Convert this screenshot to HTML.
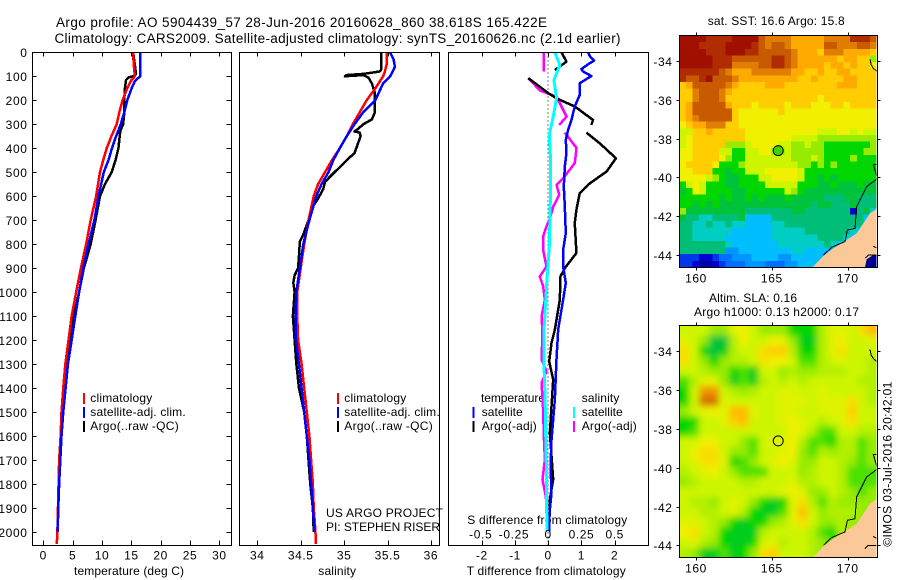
<!DOCTYPE html>
<html>
<head>
<meta charset="utf-8">
<title>Argo profile</title>
<style>
html,body{margin:0;padding:0;background:#fff;}
#chart{display:block;width:900px;height:580px;}
text{font-family:"Liberation Sans",sans-serif;font-size:12px;fill:#000;}
.t14{font-size:13.5px;}
.tick-text{letter-spacing:0.6px;}
</style>
</head>
<body>
<svg id="chart" xmlns="http://www.w3.org/2000/svg" width="900" height="580" viewBox="0 0 900 580">
<defs>
<clipPath id="clipSst"><rect x="679.5" y="35.5" width="197" height="232"/></clipPath>
<clipPath id="clipSla"><rect x="679.5" y="325.5" width="197" height="232"/></clipPath>
<filter id="soft" filterUnits="userSpaceOnUse" x="650" y="300" width="250" height="280"><feGaussianBlur stdDeviation="3.5"/></filter>
</defs>
<rect x="0" y="0" width="900" height="580" fill="#fff"/>

<text class="t14" x="56" y="27" textLength="491">Argo profile: AO 5904439_57 28-Jun-2016 20160628_860 38.618S 165.422E</text>
<text class="t14" x="54.5" y="43" textLength="566">Climatology: CARS2009. Satellite-adjusted climatology: synTS_20160626.nc (2.1d earlier)</text>

<g id="layer-sst"></g>
<g id="layer-sla"></g>

<text x="74" y="575" textLength="110">temperature (deg C)</text>
<text x="318.3" y="575" textLength="37.7">salinity</text>
<text x="466.7" y="575" textLength="159">T difference from climatology</text>
<text x="467.3" y="524" textLength="160">S difference from climatology</text>

<g>
<rect x="83" y="393" width="2" height="11" fill="#f00"/>
<rect x="83" y="407" width="2" height="11" fill="#00f"/>
<rect x="83" y="421" width="2" height="11" fill="#000"/>
<text x="90.3" y="402" textLength="62">climatology</text>
<text x="90.3" y="416" textLength="95.4">satellite-adj. clim.</text>
<text x="90.3" y="430" textLength="88.4">Argo(..raw -QC)</text>
</g>
<g>
<rect x="337" y="393" width="2" height="11" fill="#f00"/>
<rect x="337" y="407" width="2" height="11" fill="#00f"/>
<rect x="337" y="421" width="2" height="11" fill="#000"/>
<text x="344.3" y="402" textLength="62">climatology</text>
<text x="344.3" y="416" textLength="95.4">satellite-adj. clim.</text>
<text x="344.3" y="430" textLength="88.4">Argo(..raw -QC)</text>
</g>
<g>
<text x="481" y="402" textLength="64">temperature</text>
<rect x="472.5" y="407" width="2" height="11" fill="#00f"/>
<rect x="472.5" y="421" width="2" height="11" fill="#000"/>
<text x="481.7" y="416" textLength="41">satellite</text>
<text x="481.7" y="430" textLength="55">Argo(-adj)</text>
<text x="581.7" y="402" textLength="37.7">salinity</text>
<rect x="573" y="407" width="2" height="11" fill="#0ff"/>
<rect x="573" y="421" width="2" height="11" fill="#f0f"/>
<text x="581.7" y="416" textLength="41">satellite</text>
<text x="581.7" y="430" textLength="55">Argo(-adj)</text>
</g>

<text x="326" y="517" textLength="117">US ARGO PROJECT</text>
<text x="326" y="531" textLength="114">PI: STEPHEN RISER</text>

<text x="707.7" y="25" textLength="137">sat. SST: 16.6 Argo: 15.8</text>
<text x="709" y="302" textLength="88">Altim. SLA: 0.16</text>
<text x="694" y="316" textLength="165">Argo h1000: 0.13 h2000: 0.17</text>
<text transform="translate(891.7,546.7) rotate(-90)" x="0" y="0" textLength="165">©IMOS 03-Jul-2016 20:42:01</text>

<g id="layer-profiles"></g>
<g id="layer-axes"></g>
</svg>

<script>
/* ---------- axis ticks ---------- */
const depthTicks = [0,100,200,300,400,500,600,700,800,900,1000,1100,1200,1300,1400,1500,1600,1700,1800,1900,2000];
const tempTicks = [0,5,10,15,20,25,30];
const salTicks = [34,34.5,35,35.5,36];
const salTickLabels = ['34','34.5','35','35.5','36'];
const tDiffTicks = [-2,-1,0,1,2];
const sDiffTicks = [-0.5,-0.25,0,0.25,0.5];
const sDiffTickLabels = ['-0.5','-0.25','0','0.25','0.5'];
const lonTicks = [160,165,170];
const latTicks = [-34,-36,-38,-40,-42,-44];

/* ---------- temperature profiles ---------- */
const tempClimDepth = [0,50,100,120,150,200,250,300,350,400,450,500,600,700,800,900,1000,1100,1200,1300,1400,1500,1600,1700,1800,1900,2000,2050];
const tempClim = [15.3,15.4,15.6,14.9,14.3,13.5,12.95,12.5,11.6,10.8,10.2,9.66,9.0,8.07,7.3,6.4,5.6,4.83,4.3,3.75,3.4,3.1,2.95,2.7,2.6,2.5,2.4,2.3];
const tempSatDepth = [0,100,120,150,200,250,300,350,400,450,500,600,700,800,900,1000,1100,1200,1300,1400,1500,1600,1700,1800,1900,2000];
const tempSat = [16.5,16.5,15.6,15.05,14.3,13.8,13.2,12.4,11.7,11.1,10.3,9.4,8.7,7.7,6.8,6.1,5.45,4.83,4.2,3.8,3.4,3.1,2.9,2.7,2.55,2.45];
const tempArgoDepth = [0,90,100,105,115,150,200,250,300,330,400,450,500,550,600,700,800,850,900,1000,1100,1200,1300,1400,1500,1600,1700,1800,1900,2000];
const tempArgo = [15.3,15.8,15.3,14.5,14.1,13.9,13.8,13.8,13.6,13.1,12.8,12.3,11.65,10.5,9.66,8.9,8.07,7.5,6.9,6.1,5.2,4.66,4.0,3.6,3.3,3.0,2.85,2.65,2.5,2.4];

/* ---------- salinity profiles ---------- */
const salClimDepth = [0,50,80,100,150,200,250,300,350,400,450,500,550,600,700,800,900,1000,1100,1200,1300,1400,1500,1600,1700,1800,1900,2000,2050];
const salClim = [35.49,35.49,35.47,35.45,35.36,35.26,35.18,35.1,35.03,34.95,34.86,34.78,34.7,34.65,34.59,34.54,34.5,34.46,34.46,34.47,34.51,34.54,34.57,34.6,34.62,34.64,34.65,34.67,34.675];
const salSatDepth = [0,30,60,80,100,130,160,200,250,300,350,400,450,500,550,600,700,800,900,1000,1100,1200,1300,1400,1500,1600,1700,1800,1900,2000];
const salSat = [35.53,35.57,35.585,35.56,35.53,35.45,35.41,35.36,35.22,35.12,35.03,34.95,34.875,34.82,34.74,34.68,34.6,34.53,34.49,34.45,34.44,34.445,34.48,34.51,34.54,34.57,34.6,34.62,34.64,34.66];
const salArgoDepth = [0,70,80,85,90,95,100,95,105,130,170,250,280,300,320,330,335,350,380,420,450,500,540,570,610,640,700,760,790,850,900,930,960,1000,1100,1200,1300,1400,1500,1600,1700,1800,1900,2000];
const salArgo = [35.43,35.43,35.41,35.32,35.22,35.03,35.01,35.22,35.28,35.32,35.355,35.355,35.32,35.22,35.16,35.12,35.18,35.19,35.16,35.12,35.03,34.89,34.78,34.76,34.70,34.645,34.59,34.53,34.49,34.48,34.47,34.43,34.415,34.43,34.41,34.43,34.45,34.48,34.54,34.57,34.59,34.61,34.64,34.65];

/* ---------- difference profiles (null = gap) ---------- */
const dTempSatDepth = [0,15,35,50,70,80,99,129,178,226,282,324,365,420,476,560,643,754,824,893,962,1032,1157,1280,1449,1532,1615,1726,1837,1935,1998];
const dTempSat = [1.2,1.25,1.38,1.2,1.0,1.05,1.3,0.95,0.95,0.8,0.7,0.6,0.53,0.55,0.5,0.47,0.5,0.53,0.45,0.45,0.53,0.45,0.3,0.25,0.2,0.15,0.1,0.07,0.1,0.03,0.03];
const dTempArgoDepth = [0,39,74,90,108,170,192,226,282,303,320,335,379,442,497,546,587,657,712,837,900,935,1032,1157,1212,1289,1365,1476,1587,1684,1782,1865,1998];
const dTempArgo = [0.4,0.55,0.2,null,-0.6,0,0.25,0.8,1.35,1.3,null,1.15,1.55,2.04,1.76,1.26,0.95,0.85,0.8,0.85,0.5,0.37,0.35,0.2,0.1,0.03,0.15,0.1,0.05,0.1,0.15,0.05,0.03];
const dSalSatDepth = [0,53,115,192,268,344,449,560,699,810,935,1032,1171,1281,1449,1615,1754,1865,1998];
const dSalSat = [0.05,0.088,0.043,0.063,0.038,0.008,0.018,0.018,0.013,0.008,-0.008,-0.018,-0.033,-0.033,-0.023,-0.018,-0.013,-0.013,-0.008];
const dSalArgoDepth = [0,80,90,108,160,185,268,303,320,335,399,462,525,553,595,643,692,726,768,824,893,935,976,1032,1101,1171,1281,1330,1379,1490,1601,1698,1782,1851,1935,1998];
const dSalArgo = [-0.033,-0.033,null,-0.15,-0.06,0.063,0.138,0.083,null,0.125,0.213,0.2,0.113,0.063,0.083,0.038,0.013,-0.013,-0.038,-0.038,-0.013,-0.063,-0.038,-0.025,-0.05,-0.043,-0.05,-0.013,-0.05,-0.038,-0.033,-0.025,-0.043,-0.018,-0.008,-0.008];

/* ---------- SST map levels (rows north to south) ---------- */
const sstGrid = [
[16,16,16,16,15,15,15,15,16,16,16,16,14,13,13,13,13,12,12,12,12,12,13,13,13,13,15,15,15,14],
[16,16,16,15,15,15,15,16,16,16,16,15,14,13,14,14,13,12,12,12,12,12,14,14,13,13,13,14,14,13],
[16,16,16,16,15,15,15,16,16,16,15,15,14,14,14,14,14,13,12,12,12,11,13,13,13,12,12,12,12,11],
[16,16,16,16,16,15,15,15,14,14,14,14,14,14,15,15,14,13,12,12,12,12,12,12,11,12,12,11,11,8],
[16,16,16,16,16,15,15,15,13,13,13,13,14,14,15,15,14,13,12,12,12,12,11,12,12,11,12,11,11,10],
[15,15,15,15,15,15,14,13,12,12,12,13,13,13,13,13,13,12,12,11,11,12,11,11,12,12,11,11,11,11],
[15,14,14,15,16,14,14,14,13,12,12,12,12,12,12,12,12,12,11,11,12,11,11,11,11,12,12,11,11,11],
[11,12,14,14,14,14,14,13,12,11,11,11,11,12,12,12,11,11,11,11,11,11,11,11,12,12,12,11,11,11],
[11,11,13,14,14,14,13,12,11,11,11,11,11,11,11,11,11,11,11,11,11,11,11,11,11,11,11,11,11,11],
[11,11,13,14,14,14,13,11,11,11,11,11,11,11,11,11,11,11,11,11,11,10,11,11,11,11,11,11,11,11],
[11,12,14,14,14,14,14,12,11,11,11,10,11,11,11,11,10,11,11,11,10,10,10,11,11,10,11,11,11,11],
[11,12,14,14,14,14,14,14,11,10,10,10,10,10,10,11,10,10,10,10,10,10,10,10,10,10,10,10,10,10],
[11,12,13,14,14,14,14,14,11,10,10,10,10,10,10,10,10,10,10,10,10,10,10,10,10,10,10,10,10,10],
[10,11,12,12,13,13,13,11,11,10,10,10,10,10,10,10,10,10,10,10,10,10,10,10,10,10,10,10,10,10],
[9,9,11,11,12,11,11,11,11,11,10,10,10,10,10,10,10,10,10,10,10,9,9,9,10,10,9,10,9,9],
[9,10,11,11,11,11,11,11,11,11,10,10,10,10,10,10,10,9,9,9,9,8,8,8,8,8,8,8,8,8],
[9,10,11,11,11,11,11,8,8,8,9,10,10,10,10,9,9,8,8,9,8,8,7,7,7,7,7,7,7,8],
[10,10,11,11,11,11,9,9,7,7,9,9,10,10,8,8,9,8,8,8,8,8,7,7,7,7,7,7,8,8],
[10,10,11,11,11,11,10,8,7,7,9,9,9,9,9,9,9,8,8,8,9,8,7,7,7,7,8,7,7,7],
[10,11,11,11,11,10,7,7,7,8,9,9,9,9,9,9,9,9,8,8,7,8,7,8,7,7,7,7,7,7],
[10,10,11,11,11,7,7,6,7,7,9,9,9,10,10,10,10,10,9,7,7,7,7,7,7,7,7,7,7,7],
[10,10,10,10,9,8,7,6,6,7,7,7,9,9,10,10,10,10,9,7,7,6,7,6,7,7,7,7,7,7],
[7,9,10,9,7,7,7,6,6,7,7,7,7,9,9,9,9,9,7,7,7,6,6,7,6,6,6,7,6,6],
[6,7,10,9,7,7,7,7,6,6,7,7,7,7,7,7,9,8,7,6,6,6,6,6,6,6,6,6,6,6],
[7,7,7,7,7,7,6,7,6,6,7,6,7,6,6,6,7,6,6,6,6,6,5,5,5,6,6,5,5,5],
[7,7,6,7,6,7,6,6,6,6,6,6,6,6,6,6,6,6,6,6,5,6,6,5,5,5,6,5,5,5],
[8,6,6,6,6,6,6,6,6,6,5,5,5,5,5,5,5,6,6,5,5,5,5,5,5,5,1,5,6,4],
[6,5,5,4,4,5,5,5,5,6,3,3,3,3,5,5,5,5,5,5,5,5,5,5,5,5,5,5,3,3],
[5,5,4,4,5,4,4,5,4,4,3,3,3,3,4,4,5,5,5,5,5,5,5,5,5,5,5,5,3,3],
[5,5,4,4,4,4,4,4,3,3,3,3,3,3,4,4,4,4,4,5,5,5,5,5,5,5,4,3,3,3],
[5,5,4,4,4,4,4,3,3,3,3,3,3,3,4,4,4,4,4,4,4,5,5,5,5,4,3,3,3,3],
[5,5,5,5,5,5,5,4,3,3,3,3,3,3,3,4,4,4,4,4,4,4,5,4,3,3,3,3,3,3],
[5,5,5,5,5,5,5,2.5,2.5,3,3,3,3,3,3,3,3,4,4,3,3,3,3,3,3,3,3,3,3,3],
[1.5,1.5,1.5,1,1,1.5,2,2,2.5,2.5,2.5,3,3,3,3,2.5,2.5,3,3,3,3,3,3,3,3,3,3,3,3,3],
[1.5,1.5,1,0.5,0.5,1,1.5,2,2,2,2.5,2.5,2.5,2,2,2,2.5,2.5,3,3,3,3,3,3,3,3,3,3,3,3]
];

/* ---------- SLA map levels (rows north to south) ---------- */
const slaGrid = [
[9,9,9,8,8,9.5,10,9,8,8,8,7,7,7,8.5,9.5,9.5,9,10.5,11.5],
[9.5,9,8,6,6,8.5,10,9,9,10,9.5,8,6.5,6.5,8.5,9.5,10,9,9,9.5],
[10.5,9,7,6,6.5,8.5,9,9,10.5,11,11,8.5,7,7,8.5,9.5,10.5,9,9,9],
[10.5,9,8,7,8,8.5,8.5,9,10.5,10,10,9,7.5,7.5,8.5,9,9.5,9,9,8.5],
[9,9,8.5,8,8,7,7.5,6.5,9,9,8,8.5,8,8,8.5,8.5,8.5,9,9,8.5],
[7.5,8.5,9.5,9.5,8,6.5,7.5,6.5,8.5,9,8.5,9,8.5,9,9,9,9,9,8.5,8.5],
[7,9,12.5,12.5,9,8.5,8,8.5,9,9,9.5,9.5,9,9,9.5,9,9,9,9,8.5],
[7,9,13.5,13.5,9.5,9,9,9,9,9,9.5,9.5,9.5,9,9.5,9.5,9.5,10.5,9,8.5],
[8,9,9.5,10,9.5,11.5,11.5,9.5,9,9,9.5,9.5,9,9,9.5,9.5,9.5,11,9,9],
[7,7,9,9,9.5,11,11.5,9,9,9,9.5,10,9.5,9,8.5,9,9.5,10.5,9,9],
[7,7.5,9,9,9,9,9,9,9,9,9,10,9.5,8.5,7.5,7.5,9,9,8.5,8.5],
[9,9,10,10,9,9,8,7.5,9,9.5,9.5,10,8.5,7.5,7.5,7,8.5,8.5,7.5,8],
[9,10,10.5,10.5,9,8,8,7.5,9,9,9.5,10,8,7.5,8.5,8,8.5,8.5,7.5,8],
[9,9.5,10.5,10.5,9.5,7,7.5,8,9,9.5,10,9.5,8,8,9,9,8.5,8,7.5,8],
[8.5,9,9.5,10,9,8,7.5,7.5,7.5,9,9,9,8,8.5,9,9,8.5,7.5,7.5,7.5],
[8,8.5,9,9,9,9,8.5,8.5,9,9,9,9.5,8.5,8.5,9,9,8.5,7.5,7.5,7.5],
[9,9,9,9,9,9,9,9,9,9,9.5,10,9.5,8,8,9,8.5,8,7.5,8],
[9,8.5,8.5,8,9,9.5,9,8,7,6.5,7,9.5,10.5,8.5,7.5,8.5,8,8,8,8],
[9,9,8.5,8.5,9,9.5,8.5,7,6.5,6.5,7.5,9.5,11.5,9,8,8.5,8.5,8.5,8,8],
[9.5,9.5,9,8.5,8,7,6.5,7,7,8,8.5,9.5,10.5,9,8,8,8.5,8,8,8],
[10,10.5,9,8.5,7,6.5,6.5,6.5,8.5,9,9,9,9,8.5,7.5,7,8.5,8,8,8],
[9,9.5,8.5,8,7,6.5,6.5,7,9,9.5,8.5,9,9,8.5,8,7.5,7.5,8,8,8],
[8.5,8,6.5,6.5,7.5,6.5,7,8,10.5,11,9,9,9,8.5,8,8,8,8,8,8]
];

/* ---------- geography ---------- */
const floatLon = 165.42;
const floatLat = -38.618;
const landLon = [167.67,168.4,169.05,169.93,170.6,171.03,171.47,171.96,171.96];
const landLat = [-44.64,-44.05,-43.66,-43.23,-42.88,-42.37,-41.85,-41.6,-44.64];
const sstDeepLon = [171.14,171.25,171.69,171.96,171.96];
const sstDeepLat = [-44.64,-44.22,-44,-44,-44.64];
const coastLons = [
 [168.4,168.95,169.82,169.98,170.48,170.59,170.81,171.25,171.69,171.96],
 [171.96,171.8,171.69,171.96],
 [171.47,171.55,171.69,171.96],
 [171.14,171.36,171.69,171.96],
 [171.69,171.96]
];
const coastLats = [
 [-44.0,-43.6,-43.31,-42.71,-42.63,-41.51,-41.16,-40.48,-40.22,-40.05],
 [-40.05,-39.62,-39.33,-39.33],
 [-33.91,-34.2,-34.38,-34.55],
 [-44.17,-44,-44,-44],
 [-43.55,-43.65]
];

/* ---------- scales ---------- */
const NS = 'http://www.w3.org/2000/svg';
const yDepth = d => 52.3 + d * 0.2398;
const xTemp = t => 43.3 + t * 5.87;
const xSal = s => 257.3 + (s - 34) * 86.8;
const xTDiff = t => 548.2 + t * 33.2;
const xSDiff = s => 548.2 + s * 133;
const xLon = lon => 696 + (lon - 160) * 15.17;
const ySstLat = lat => 61 + (-34 - lat) * 19.4;
const ySlaLat = lat => 351.3 + (-34 - lat) * 19.4;

function mk(parent, tag, attrs) {
  const el = document.createElementNS(NS, tag);
  for (const k in attrs) el.setAttribute(k, attrs[k]);
  parent.appendChild(el);
  return el;
}

const palette = [
 [0,0,128],[0,0,210],[0,110,255],[0,190,255],[0,205,195],[0,190,120],[0,195,60],[0,215,0],
 [150,235,0],[205,245,0],[240,240,0],[255,205,0],[255,170,0],[225,125,0],[200,90,0],[175,45,0],[160,15,0]
];
function levelColor(v) {
  const i = Math.max(0, Math.min(palette.length - 2, Math.floor(v)));
  const f = Math.max(0, Math.min(1, v - i));
  const c = palette[i].map((p, k) => Math.round(p + (palette[i + 1][k] - p) * f));
  return 'rgb(' + c.join(',') + ')';
}

function pathFrom(xs, ys, xScale, yScale) {
  let d = '';
  let pen = false;
  for (let i = 0; i < xs.length; i++) {
    if (xs[i] === null) { pen = false; continue; }
    d += (pen ? 'L' : 'M') + xScale(xs[i]).toFixed(2) + ' ' + yScale(ys[i]).toFixed(2);
    pen = true;
  }
  return d;
}

/* ---------- profile lines ---------- */
const layerProfiles = document.getElementById('layer-profiles');
function addProfile(name, values, depths, xScale, color, width) {
  const p = mk(layerProfiles, 'path', {
    d: pathFrom(values, depths, xScale, yDepth),
    fill: 'none', stroke: color, 'stroke-width': width,
    'stroke-linejoin': 'round', 'shape-rendering': 'crispEdges'
  });
  
  
}
const zeroLine = mk(layerProfiles, 'line', {
  x1: xTDiff(0), x2: xTDiff(0), y1: yDepth(0), y2: 545, stroke: '#000',
  'stroke-width': 1, 'stroke-dasharray': '1 3', 'shape-rendering': 'crispEdges'
});



addProfile('temperature-argo-line', tempArgo, tempArgoDepth, xTemp, '#000', 2.5);
addProfile('temperature-climatology-line', tempClim, tempClimDepth, xTemp, '#f00', 2.5);
addProfile('temperature-satellite-line', tempSat, tempSatDepth, xTemp, '#00f', 2.5);
addProfile('salinity-argo-line', salArgo, salArgoDepth, xSal, '#000', 2.5);
addProfile('salinity-climatology-line', salClim, salClimDepth, xSal, '#f00', 2.5);
addProfile('salinity-satellite-line', salSat, salSatDepth, xSal, '#00f', 2.5);
addProfile('salinity-diff-argo-line', dSalArgo, dSalArgoDepth, xSDiff, '#f0f', 2.5);
addProfile('temperature-diff-argo-line', dTempArgo, dTempArgoDepth, xTDiff, '#000', 2.5);
addProfile('temperature-diff-satellite-line', dTempSat, dTempSatDepth, xTDiff, '#00f', 2.5);
addProfile('salinity-diff-satellite-line', dSalSat, dSalSatDepth, xSDiff, '#0ff', 3);

/* ---------- maps ---------- */
const MAP_LEFT = 679.5, MAP_W = 197, MAP_H = 232;
function drawGrid(group, grid, top, name, pad) {
  const rows = grid.length, cols = grid[0].length;
  const cw = MAP_W / cols, ch = MAP_H / rows;
  grid.forEach((row, r) => {
    row.forEach((v, c) => {
      if (c >= cols) return;
      const x0 = MAP_LEFT + c * cw - (pad && c === 0 ? 20 : 0);
      const x1 = MAP_LEFT + (c + 1) * cw + (pad && c === cols - 1 ? 20 : 0);
      const y0 = top + r * ch - (pad && r === 0 ? 20 : 0);
      const y1 = top + (r + 1) * ch + (pad && r === rows - 1 ? 20 : 0);
      const cell = mk(group, 'rect', {
        x: x0.toFixed(2), y: y0.toFixed(2),
        width: (x1 - x0 + 0.4).toFixed(2), height: (y1 - y0 + 0.4).toFixed(2),
        fill: levelColor(v), 'shape-rendering': 'crispEdges'
      });
      
      
    });
  });
}
function polyPoints(lons, lats, yScale) {
  return lons.map((lon, i) => xLon(lon).toFixed(2) + ',' + yScale(lats[i]).toFixed(2)).join(' ');
}
function drawGeo(group, yScale, clip) {
  const wrap = mk(group, 'g', { 'clip-path': 'url(#' + clip + ')' });
  
  
  const land = mk(wrap, 'polygon', { points: polyPoints(landLon, landLat, yScale), fill: '#fdc898' });
  
  
  if (clip === 'clipSst') {
    const deep = mk(wrap, 'polygon', { points: polyPoints(sstDeepLon, sstDeepLat, yScale), fill: '#000090' });
    
    
  }
  coastLons.forEach((lons, i) => {
    const coast = mk(wrap, 'polyline', {
      points: polyPoints(lons, coastLats[i], yScale), fill: 'none', stroke: '#000',
      'stroke-width': 1, 'shape-rendering': 'crispEdges'
    });
    
    
  });
}
const layerSst = document.getElementById('layer-sst');
const sstCells = mk(layerSst, 'g', { 'clip-path': 'url(#clipSst)' });


drawGrid(sstCells, sstGrid, 35.5, 'sst-cell', false);
drawGeo(layerSst, ySstLat, 'clipSst');
const sstMarker = mk(layerSst, 'circle', {
  cx: xLon(floatLon), cy: ySstLat(floatLat), r: 5, fill: '#3fd400', stroke: '#000', 'stroke-width': 1
});



const layerSla = document.getElementById('layer-sla');
const slaClip = mk(layerSla, 'g', { 'clip-path': 'url(#clipSla)' });


const slaCells = mk(slaClip, 'g', { filter: 'url(#soft)' });


drawGrid(slaCells, slaGrid, 325.5, 'sla-cell', true);
drawGeo(layerSla, ySlaLat, 'clipSla');
const slaMarker = mk(layerSla, 'circle', {
  cx: xLon(floatLon), cy: ySlaLat(floatLat), r: 5, fill: 'none', stroke: '#000', 'stroke-width': 1
});



/* ---------- axes ---------- */
const layerAxes = document.getElementById('layer-axes');
function frame(name, x, y, w, h) {
  const r = mk(layerAxes, 'rect', {
    x: x, y: y, width: w, height: h, fill: 'none', stroke: '#000',
    'stroke-width': 1, 'shape-rendering': 'crispEdges'
  });
  
  
}
function tick(x1, y1, x2, y2) {
  const l = mk(layerAxes, 'line', {
    x1: x1, y1: y1, x2: x2, y2: y2, stroke: '#000', 'stroke-width': 1, 'shape-rendering': 'crispEdges'
  });
  
  
}
function label(str, x, y, anchor) {
  const t = mk(layerAxes, 'text', { x: x, y: y, 'text-anchor': anchor, class: 'tick-text' });
  t.textContent = str;
  
  
}
const BOT = 545.5, TOP = 52.5;
frame('temperature-panel-frame', 32.5, TOP, 199, BOT - TOP);
frame('salinity-panel-frame', 239.5, TOP, 200, BOT - TOP);
frame('difference-panel-frame', 448.5, TOP, 200, BOT - TOP);
frame('sst-map-frame', 679.5, 35.5, 198, 232);
frame('sla-map-frame', 679.5, 325.5, 198, 232);

depthTicks.forEach(d => {
  const y = Math.round(yDepth(d)) + 0.5;
  tick(32.5, y, 36.5, y);
  tick(226.5, y, 231.5, y);
  label(String(d), 27.5, Math.round(yDepth(d)) + 5, 'end');
});
tempTicks.forEach(t => {
  const x = Math.round(xTemp(t)) + 0.5;
  tick(x, TOP, x, TOP + 4);
  tick(x, BOT, x, BOT - 5);
  label(String(t), xTemp(t), 559.5, 'middle');
});
salTicks.forEach((s, i) => {
  const x = Math.round(xSal(s)) + 0.5;
  tick(x, TOP, x, TOP + 4);
  tick(x, BOT, x, BOT - 5);
  label(salTickLabels[i], xSal(s), 559.5, 'middle');
});
tDiffTicks.forEach(t => {
  const x = Math.round(xTDiff(t)) + 0.5;
  tick(x, TOP, x, TOP + 4);
  tick(x, BOT, x, BOT - 5);
  label(String(t), xTDiff(t), 559.5, 'middle');
});
sDiffTicks.forEach((s, i) => {
  label(sDiffTickLabels[i], xSDiff(s) - (s < 0 ? 1 : 0), 538.5, 'middle');
});
[[ySstLat, 35.5, 267.5, 282.5], [ySlaLat, 325.5, 557.5, 572.5]].forEach(m => {
  lonTicks.forEach(lon => {
    const x = Math.round(xLon(lon)) + 0.5;
    tick(x, m[1] - 3, x, m[1]);
    tick(x, m[2], x, m[2] + 3);
    label(String(lon), xLon(lon), m[3], 'middle');
  });
  latTicks.forEach(lat => {
    const y = Math.round(m[0](lat)) + 0.5;
    tick(676.5, y, 679.5, y);
    tick(877.5, y, 880.5, y);
    label(String(lat), 672.5, Math.round(m[0](lat)) + 5, 'end');
  });
});
</script>
</body>
</html>
